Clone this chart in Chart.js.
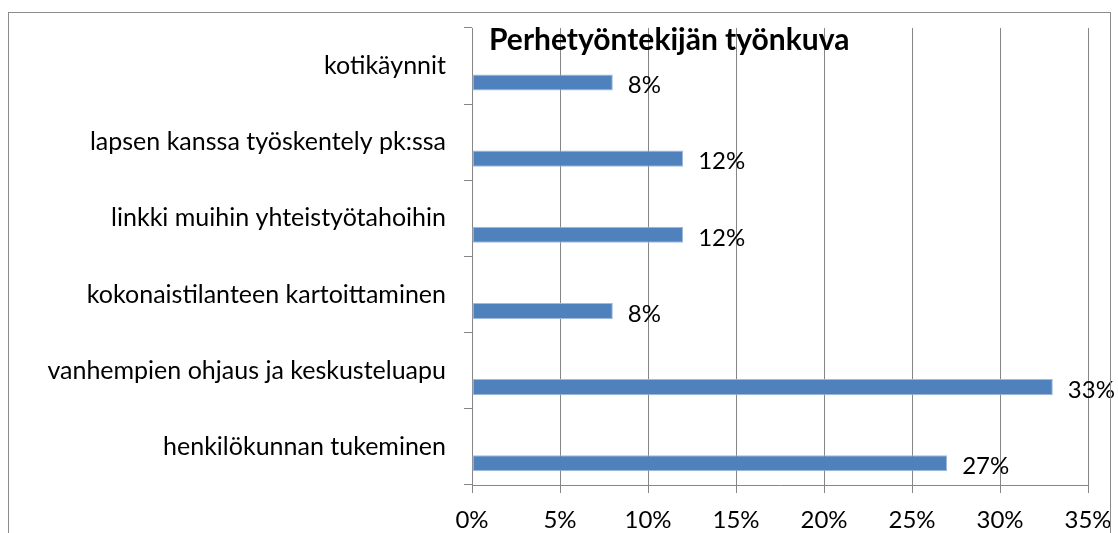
<!DOCTYPE html>
<html>
<head>
<meta charset="utf-8">
<script src="https://cdn.jsdelivr.net/npm/chart.js@4/dist/chart.umd.min.js"></script>
<style>
  html, body { margin: 0; padding: 0; background: #fff; overflow: hidden; }
  #wrap { position: relative; width: 1118px; height: 533px; }
  #frame {
    position: absolute; left: 8px; top: 12px; width: 1101px; height: 560px;
    border: 1px solid #8c8c8c; pointer-events: none;
  }
</style>
</head>
<body>
<div id="wrap">
  <canvas id="chart" width="1118" height="533"></canvas>
  <div id="frame"></div>
</div>
<script>
/* ── Data ─────────────────────────────────────────────────── */
const TITLE      = 'Perhetyöntekijän työnkuva';
const categories = [
  'kotikäynnit',
  'lapsen kanssa työskentely pk:ssa',
  'linkki muihin yhteistyötahoihin',
  'kokonaistilanteen kartoittaminen',
  'vanhempien ohjaus ja keskusteluapu',
  'henkilökunnan tukeminen',
];
const shares     = [0.08, 0.12, 0.12, 0.08, 0.33, 0.27];
const emptySlot  = [null, null, null, null, null, null];
const xTicks     = [0, 0.05, 0.10, 0.15, 0.20, 0.25, 0.30, 0.35];

const FONT = 'Lato, "Open Sans", sans-serif';
const GRID = '#868686';

/* Title drawn over the plot, like the original */
const titlePlugin = {
  id: 'insideTitle',
  afterDraw(chart) {
    const { ctx, chartArea } = chart;
    ctx.save();
    ctx.font = 'bold 30px ' + FONT;
    ctx.fillStyle = '#000';
    ctx.textBaseline = 'middle';
    ctx.fillText(TITLE, chartArea.left + 17, chartArea.top + 12);
    ctx.restore();
  },
};

/* Value labels to the right of each bar */
const valueLabels = {
  id: 'valueLabels',
  afterDatasetsDraw(chart) {
    const { ctx } = chart;
    const meta = chart.getDatasetMeta(1);
    ctx.save();
    ctx.font = '24px ' + FONT;
    ctx.fillStyle = '#000';
    ctx.textBaseline = 'middle';
    meta.data.forEach((bar, i) => {
      ctx.fillText(Math.round(shares[i] * 100) + '%', bar.x + 15, bar.y + 3);
    });
    ctx.restore();
  },
};

new Chart(document.getElementById('chart').getContext('2d'), {
  type: 'bar',
  data: {
    labels: categories,
    datasets: [
      { data: emptySlot, backgroundColor: 'rgba(0,0,0,0)' },
      {
        data: shares,
        backgroundColor: '#4f81bd',
        borderColor: '#9fbbdc',
        borderWidth: 1,
        borderSkipped: false,
      },
    ],
  },
  options: {
    indexAxis: 'y',
    responsive: false,
    animation: false,
    categoryPercentage: 0.86,
    barPercentage: 0.49,
    layout: { padding: { left: 0, top: 28, right: 30, bottom: 0 } },
    plugins: {
      legend:  { display: false },
      tooltip: { enabled: false },
    },
    scales: {
      x: {
        min: 0,
        max: 0.35,
        afterBuildTicks: s => { s.ticks = xTicks.map(v => ({ value: v })); },
        afterFit: s => { s.height = 533 - 485; s.paddingRight = 0; },
        grid: { color: GRID, tickLength: 8, lineWidth: 1 },
        border: { color: GRID },
        ticks: {
          color: '#000',
          font: { family: FONT, size: 24 },
          padding: 13,
          maxRotation: 0,
          callback: v => Math.round(v * 100) + '%',
        },
      },
      y: {
        afterFit: s => { s.width = 472; s.paddingTop = 0; s.paddingBottom = 0; },
        grid: { display: true, drawOnChartArea: false, offset: true, color: GRID, tickLength: 8 },
        border: { color: GRID },
        ticks: {
          color: '#000',
          font: { family: FONT, size: 25 },
          padding: 18,
          crossAlign: 'near',
        },
      },
    },
  },
  plugins: [titlePlugin, valueLabels],
});
</script>
</body>
</html>
